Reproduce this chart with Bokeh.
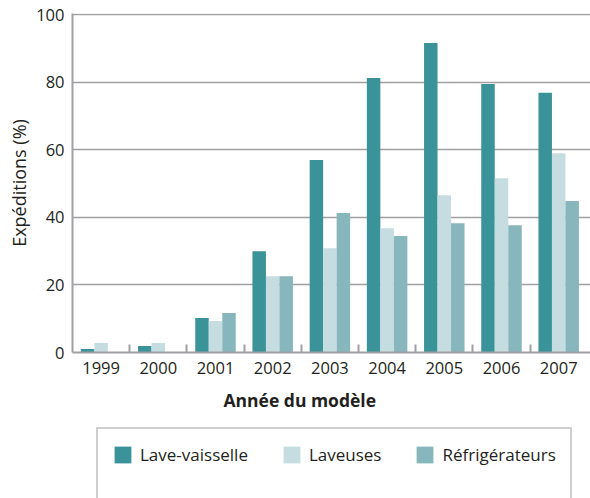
from bokeh.plotting import figure
from bokeh.layouts import column
from bokeh.models import Range1d, FixedTicker, Legend, LegendItem, Title, ColumnDataSource
from bokeh.embed import file_html
from bokeh.resources import INLINE

years = ["1999", "2000", "2001", "2002", "2003", "2004", "2005", "2006", "2007"]
lave_vaisselle = [1.0, 1.9, 10.2, 30.0, 57.0, 81.3, 91.7, 79.5, 76.9]
laveuses = [2.8, 2.8, 9.3, 22.6, 30.9, 36.8, 46.6, 51.6, 59.0]
refrigerateurs = [0.0, 0.0, 11.7, 22.6, 41.3, 34.5, 38.3, 37.7, 44.9]
series_names = ["Lave-vaisselle", "Laveuses", "Réfrigérateurs"]
y_ticks = [0, 20, 40, 60, 80, 100]
x_title = "Année du modèle"
y_title = "Expéditions (%)"

colors = ["#3a9399", "#c5dde1", "#87b6bc"]
FONT = "Open Sans"
TXT = "#231f20"
GREY = "#a0a0a4"

centers = [i + 0.5 for i in range(len(years))]
bw = 0.236
series = [lave_vaisselle, laveuses, refrigerateurs]

p = figure(width=590, height=420, output_backend="svg", toolbar_location=None,
           x_range=Range1d(0, 9.056), y_range=Range1d(0, 100.4),
           min_border_left=72, min_border_right=0, min_border_top=13, min_border_bottom=68)
p.outline_line_color = None

for k, vals in enumerate(series):
    src = ColumnDataSource(dict(x=[c + (k - 1) * bw for c in centers], top=vals))
    p.vbar(x="x", top="top", bottom=0, width=bw, source=src,
           fill_color=colors[k], line_color=None)

# grid
p.xgrid.visible = False
p.ygrid.ticker = FixedTicker(ticks=[20, 40, 60, 80, 100])
p.ygrid.grid_line_color = GREY
p.ygrid.grid_line_width = 1.6

# y axis
p.yaxis.ticker = FixedTicker(ticks=y_ticks)
p.yaxis.axis_line_color = GREY
p.yaxis.axis_line_width = 2
p.yaxis.major_tick_line_color = None
p.yaxis.major_tick_in = 0
p.yaxis.major_tick_out = 0
p.yaxis.minor_tick_line_color = None
p.yaxis.major_label_standoff = 8
p.yaxis.major_label_text_font = FONT
p.yaxis.major_label_text_font_size = "16.5px"
p.yaxis.major_label_text_color = TXT

p.add_layout(Title(text=y_title, align="center", standoff=6,
                   text_font=FONT, text_font_size="18px", text_font_style="normal",
                   text_color=TXT), "left")

# x axis
p.xaxis.ticker = FixedTicker(ticks=centers, minor_ticks=[1, 2, 3, 4, 5, 6, 7, 8])
p.xaxis.major_label_overrides = {c: y for c, y in zip(centers, years)}
p.xaxis.axis_line_color = GREY
p.xaxis.axis_line_width = 2
p.xaxis.major_tick_line_color = None
p.xaxis.major_tick_in = 0
p.xaxis.major_tick_out = 0
p.xaxis.minor_tick_line_color = GREY
p.xaxis.minor_tick_line_width = 2
p.xaxis.minor_tick_in = 8
p.xaxis.minor_tick_out = 0
p.xaxis.major_label_standoff = 9
p.xaxis.major_label_text_font = FONT
p.xaxis.major_label_text_font_size = "16.5px"
p.xaxis.major_label_text_color = TXT

p.add_layout(Title(text=x_title, align="left", offset=151, standoff=18,
                   text_font=FONT, text_font_size="17.5px", text_font_style="bold",
                   text_color=TXT), "below")

# legend in a second figure (swatch renderers hidden, only their legend glyphs show)
p2 = figure(width=590, height=78, output_backend="svg", toolbar_location=None,
            x_range=Range1d(0, 1), y_range=Range1d(0, 1),
            min_border_left=72, min_border_right=0, min_border_top=0, min_border_bottom=0)
p2.outline_line_color = None
p2.axis.visible = False
p2.grid.visible = False
sw = []
for k, vals in enumerate(series):
    r = p2.vbar(x=centers, top=vals, width=bw, fill_color=colors[k], line_color=None)
    r.visible = False
    sw.append(r)
dummy = p2.vbar(x=centers, top=lave_vaisselle, width=bw, fill_alpha=0, line_alpha=0)
dummy.visible = False
items = [LegendItem(label=n, renderers=[r]) for n, r in zip(series_names, sw)]
items.append(LegendItem(label=" ", renderers=[dummy]))
legend = Legend(items=items, orientation="horizontal", ncols=3,
                location=(24, -38), margin=0,
                border_line_color=GREY, border_line_width=2,
                inactive_fill_alpha=0,
                padding=14, spacing=33,
                glyph_width=21, glyph_height=21, label_standoff=7,
                label_text_font=FONT, label_text_font_size="17px",
                label_text_color=TXT, label_height=21)
p2.add_layout(legend, "center")

layout = column(p, p2, spacing=0)
open("out.html", "w").write(file_html(layout, INLINE))
